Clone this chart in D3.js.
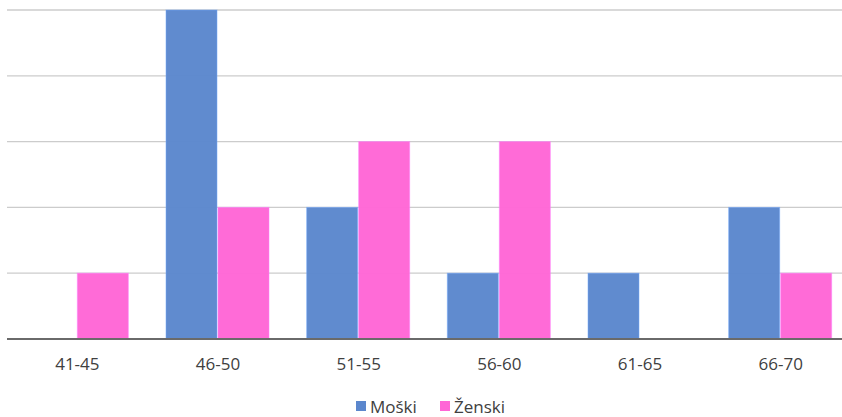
<!DOCTYPE html>
<html><head><meta charset="utf-8">
<script src="https://cdn.jsdelivr.net/npm/d3@7"></script>
<style>body{margin:0;background:#fff}svg{display:block}</style>
</head><body>
<svg id="c" width="842" height="417"></svg>
<script>
const categories = ["41-45","46-50","51-55","56-60","61-65","66-70"];
const seriesNames = ["Moški","Ženski"];
const moski = [0,5,2,1,1,2];
const zenski = [1,2,3,3,0,1];
const yTicks = [0,1,2,3,4,5];
const colors = ["#5b87cd","#ff66d6"];

(function(){
const svg = d3.select("#c");
const mLeft = 7, mRight = 851, mTop = 10, mBottom = 339;
const x0 = d3.scaleBand().domain(categories).range([mLeft,mRight]).paddingInner(0).paddingOuter(0);
const x1 = d3.scaleBand().domain(seriesNames).range([0,104]);
const y = d3.scaleLinear().domain([0,5]).range([mBottom,mTop]);
const series = [moski, zenski];

svg.append("g").selectAll("line").data(yTicks.filter(d=>d>0)).join("line")
  .attr("x1",mLeft).attr("x2",842).attr("y1",d=>y(d)).attr("y2",d=>y(d))
  .attr("stroke","#cccccc").attr("stroke-width",1.3);

const g = svg.append("g");
series.forEach((vals,si)=>{
  g.selectAll(".s"+si).data(categories).join("rect").attr("class","s"+si)
    .attr("x",d=>x0(d)+(x0.bandwidth()-104)/2+x1(seriesNames[si]))
    .attr("width",x1.bandwidth()-1)
    .attr("y",(d,i)=>y(vals[i]))
    .attr("height",(d,i)=>mBottom-y(vals[i]))
    .attr("fill",colors[si]).attr("fill-opacity",0.97)
    .attr("stroke",d3.color(colors[si]).brighter(0.6)).attr("stroke-opacity",0.5).attr("stroke-width",1);
});

const xAxis = d3.axisBottom(x0).tickSize(0).tickPadding(19);
const ax = svg.append("g").attr("transform",`translate(0,${mBottom})`).call(xAxis);
ax.select(".domain").remove();
ax.selectAll("text").attr("font-family","'Open Sans', 'Liberation Sans', sans-serif")
  .attr("font-size",17).attr("fill","#404040");
svg.append("line").attr("x1",mLeft).attr("x2",842).attr("y1",mBottom).attr("y2",mBottom)
  .attr("stroke","#6a6a6a").attr("stroke-width",2);

const lg = svg.append("g").attr("font-family","'Open Sans', 'Liberation Sans', sans-serif").attr("font-size",17).attr("fill","#404040");
const legX = [356, 440];
seriesNames.forEach((n,i)=>{
  lg.append("rect").attr("x",legX[i]).attr("y",401).attr("width",10).attr("height",10).attr("fill",colors[i]);
  lg.append("text").attr("x",legX[i]+14).attr("y",413).text(n);
});
})();
</script>
</body></html>
